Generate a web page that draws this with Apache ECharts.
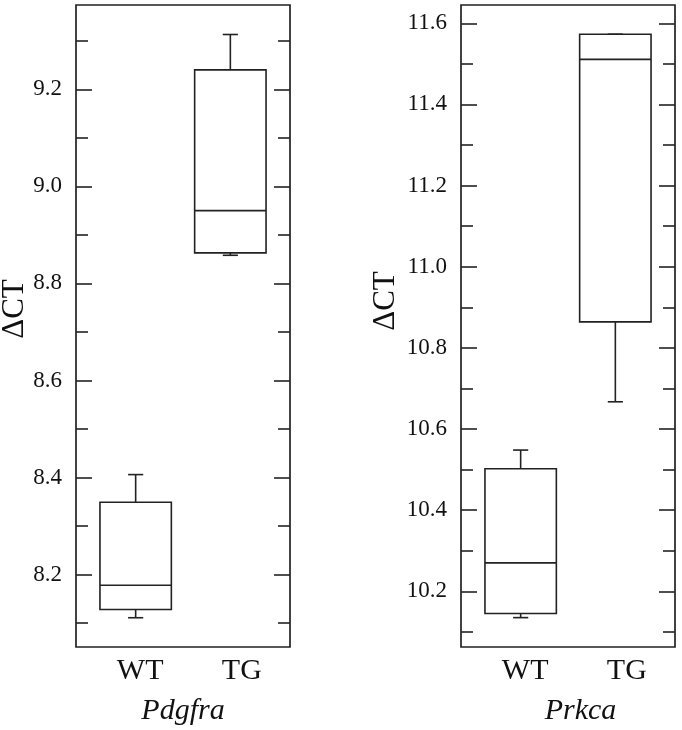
<!DOCTYPE html>
<html>
<head>
<meta charset="utf-8">
<script src="https://cdn.jsdelivr.net/npm/echarts@6/dist/echarts.min.js"></script>
<style>
  html, body { margin: 0; padding: 0; background: #fff; }
  #chart { width: 682px; height: 730px; }
</style>
</head>
<body>
<div id="chart"></div>
<script>
// ---- data ----
const categories = ['WT', 'TG'];
const genes = ['Pdgfra', 'Prkca'];
const yTitle = 'ΔCT';
// [min, Q1, median, Q3, max] per category
const pdgfraWT = [8.111, 8.128, 8.178, 8.349, 8.406];
const pdgfraTG = [8.858, 8.863, 8.950, 9.240, 9.313];
const prkcaWT = [10.135, 10.145, 10.270, 10.502, 10.548];
const prkcaTG = [10.667, 10.864, 11.511, 11.573, 11.573];
const pdgfraMajorTicks = [8.2, 8.4, 8.6, 8.8, 9.0, 9.2];
const pdgfraMinorTicks = [8.1, 8.3, 8.5, 8.7, 8.9, 9.1, 9.3];
const prkcaMajorTicks = [10.2, 10.4, 10.6, 10.8, 11.0, 11.2, 11.4, 11.6];
const prkcaMinorTicks = [10.1, 10.3, 10.5, 10.7, 10.9, 11.1, 11.3, 11.5];

const FONT = '"Liberation Serif", "Times New Roman", serif';
const INK = '#111';
const LINE = '#222';
const LW = 1.6;

function toRows(groups) {
  return groups.map(function (s, i) { return [i].concat(s); });
}

function renderBox(params, api) {
  const x = api.value(0);
  const lo = api.coord([x, api.value(1)]);
  const q1 = api.coord([x, api.value(2)]);
  const med = api.coord([x, api.value(3)]);
  const q3 = api.coord([x, api.value(4)]);
  const hi = api.coord([x, api.value(5)]);
  const step = api.size([1, 0])[0];
  const half = step * 0.377;
  const cap = step * 0.08;
  const cx = q1[0];
  const st = { stroke: LINE, lineWidth: LW, fill: null };
  function line(x1, y1, x2, y2) {
    return { type: 'line', shape: { x1: x1, y1: y1, x2: x2, y2: y2 }, style: st };
  }
  return {
    type: 'group',
    children: [
      { type: 'rect', shape: { x: cx - half, y: q3[1], width: 2 * half, height: q1[1] - q3[1] },
        style: { stroke: LINE, lineWidth: LW, fill: 'rgba(0,0,0,0)' } },
      line(cx - half, med[1], cx + half, med[1]),
      line(cx, q3[1], cx, hi[1]),
      line(cx - cap, hi[1], cx + cap, hi[1]),
      line(cx, q1[1], cx, lo[1]),
      line(cx - cap, lo[1], cx + cap, lo[1])
    ]
  };
}

const labelStyle = { fontFamily: FONT, fontSize: 23, color: INK };

function yAxes(gridIndex, min, max, major, minor, titlePad, titleGap) {
  const base = {
    type: 'value', gridIndex: gridIndex, min: min, max: max,
    axisLine: { show: false, onZero: false }, splitLine: { show: false }
  };
  const fmt = function (v) { return v.toFixed(1); };
  return [
    Object.assign({}, base, {
      position: 'left',
      name: yTitle, nameLocation: 'middle', nameGap: titleGap, nameRotate: 90, nameMoveOverlap: false,
      nameTextStyle: { fontFamily: FONT, fontSize: 31, color: INK, padding: [0, 0, 0, titlePad] },
      axisTick: { show: true, inside: true, length: 16, lineStyle: { color: LINE, width: LW }, customValues: major },
      axisLabel: Object.assign({ show: true, margin: 14, formatter: fmt, customValues: major }, labelStyle)
    }),
    Object.assign({}, base, {
      position: 'left',
      axisTick: { show: true, inside: true, length: 12, lineStyle: { color: LINE, width: LW }, customValues: minor },
      axisLabel: { show: false }
    }),
    Object.assign({}, base, {
      position: 'right',
      axisTick: { show: true, inside: true, length: 16, lineStyle: { color: LINE, width: LW }, customValues: major },
      axisLabel: { show: false }
    }),
    Object.assign({}, base, {
      position: 'right',
      axisTick: { show: true, inside: true, length: 12, lineStyle: { color: LINE, width: LW }, customValues: minor },
      axisLabel: { show: false }
    })
  ];
}

function xAxis(gridIndex, name, namePad) {
  return {
    type: 'value', gridIndex: gridIndex, min: -0.63, max: 1.63,
    axisLine: { show: false, onZero: false }, splitLine: { show: false }, axisTick: { show: false },
    name: name, nameLocation: 'middle', nameGap: 49,
    nameTextStyle: { fontFamily: FONT, fontSize: 30, fontStyle: 'italic', color: INK, padding: [0, 0, 0, namePad] },
    axisLabel: {
      show: true, margin: 9, customValues: [0, 1],
      formatter: function (v) { return '{c' + Math.round(v) + '|' + categories[Math.round(v)] + '}'; },
      rich: {
        c0: { fontFamily: FONT, fontSize: 30, color: INK, padding: [0, 0, 0, 9] },
        c1: { fontFamily: FONT, fontSize: 30, color: INK, padding: [0, 0, 0, 23] }
      }
    }
  };
}

const gridBase = { top: 5, bottom: 83, show: true, borderColor: LINE, borderWidth: 1.7,
  backgroundColor: 'rgba(0,0,0,0)', containLabel: false, outerBoundsMode: 'none' };

const chart = echarts.init(document.getElementById('chart'), null, { renderer: 'canvas' });
chart.setOption({
  animation: false,
  backgroundColor: '#fff',
  grid: [
    Object.assign({ left: 76, right: 392 }, gridBase),
    Object.assign({ left: 461, right: 7 }, gridBase)
  ],
  xAxis: [xAxis(0, genes[0], 0), xAxis(1, genes[1], 25)],
  yAxis: [].concat(
    yAxes(0, 8.0507, 9.3738, pdgfraMajorTicks, pdgfraMinorTicks, 34, 46),
    yAxes(1, 10.0626, 11.645, prkcaMajorTicks, prkcaMinorTicks, 50, 60)
  ),
  series: [
    { type: 'custom', xAxisIndex: 0, yAxisIndex: 0, renderItem: renderBox, clip: false,
      encode: { x: 0, y: [1, 2, 3, 4, 5] }, data: toRows([pdgfraWT, pdgfraTG]) },
    { type: 'custom', xAxisIndex: 1, yAxisIndex: 4, renderItem: renderBox, clip: false,
      encode: { x: 0, y: [1, 2, 3, 4, 5] }, data: toRows([prkcaWT, prkcaTG]) }
  ]
});
</script>
</body>
</html>
